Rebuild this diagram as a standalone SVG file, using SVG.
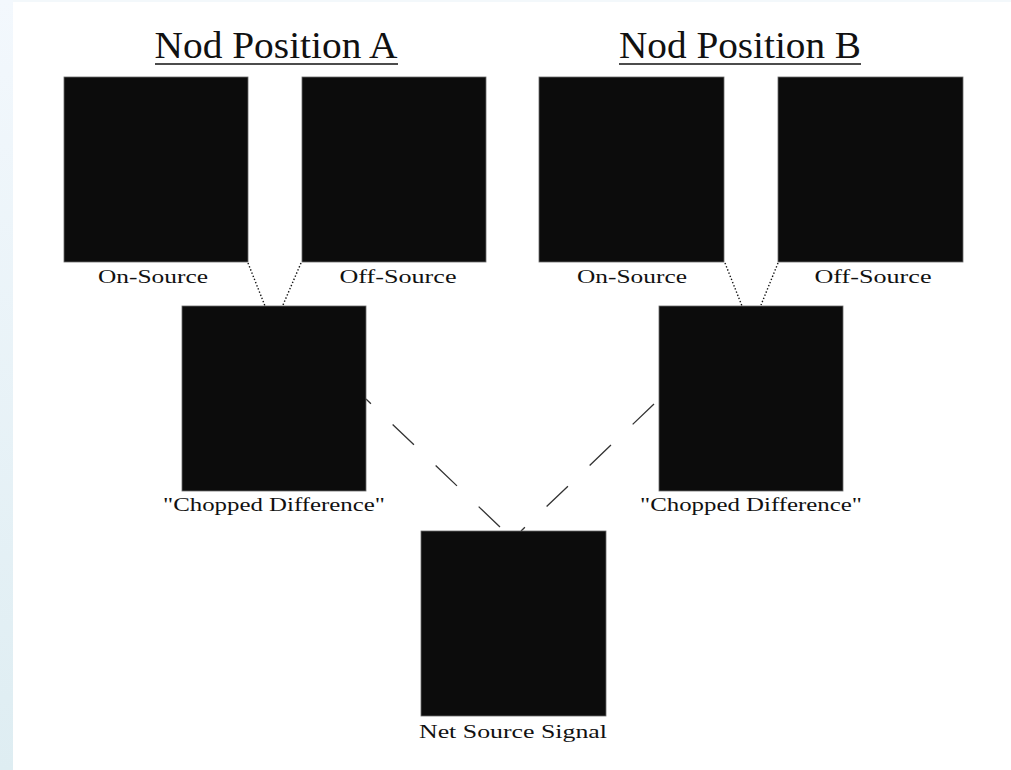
<svg xmlns="http://www.w3.org/2000/svg" width="1011" height="770" viewBox="0 0 1011 770">
  <defs>
    <linearGradient id="edge" x1="0" y1="0" x2="0" y2="1">
      <stop offset="0" stop-color="#f3f8fd"/>
      <stop offset="1" stop-color="#deedf2"/>
    </linearGradient>
    <style>
      .box { fill: #0c0c0c; stroke: #6a6a6a; stroke-width: 0.8; }
      .title { font-family: "Liberation Serif", "Times New Roman", serif; font-size: 37px; fill: #111; text-anchor: middle; }
      .label { font-family: "Liberation Serif", "Times New Roman", serif; font-size: 19px; fill: #111; text-anchor: middle; }
      .rule { stroke: #111; stroke-width: 1.6; }
      .dotted { stroke: #111; stroke-width: 1.4; stroke-dasharray: 1.4 2; fill: none; }
      .dashed { stroke: #333; stroke-width: 1.3; stroke-dasharray: 29.5 30; fill: none; }
    </style>
  </defs>

  <!-- page background -->
  <rect x="0" y="0" width="1011" height="770" fill="#ffffff"/>
  <rect x="0" y="0" width="13" height="770" fill="url(#edge)"/>
  <rect x="13" y="0" width="998" height="2" fill="#f3f8fb"/>

  <!-- headings -->
  <g id="heading-a">
    <text class="title" x="276" y="58" textLength="243" lengthAdjust="spacingAndGlyphs">Nod Position A</text>
    <line class="rule" x1="155" y1="64" x2="398" y2="64"/>
  </g>
  <g id="heading-b">
    <text class="title" x="740" y="58" textLength="242" lengthAdjust="spacingAndGlyphs">Nod Position B</text>
    <line class="rule" x1="619" y1="64" x2="861" y2="64"/>
  </g>

  <!-- connectors -->
  <g id="connectors">
    <line class="dotted" x1="248" y1="263" x2="265" y2="306"/>
    <line class="dotted" x1="301" y1="263" x2="283" y2="305"/>
    <line class="dotted" x1="725" y1="263" x2="742" y2="306"/>
    <line class="dotted" x1="778" y1="263" x2="761" y2="305"/>
    <line class="dashed" x1="500" y1="527" x2="366" y2="399"/>
    <line class="dashed" x1="654" y1="404" x2="521" y2="531"/>
  </g>

  <!-- nodes -->
  <g id="a-on-source">
    <rect class="box" x="64" y="77" width="184" height="185"/>
    <text class="label" x="153" y="283" textLength="110" lengthAdjust="spacingAndGlyphs">On-Source</text>
  </g>
  <g id="a-off-source">
    <rect class="box" x="302" y="77" width="184" height="185"/>
    <text class="label" x="398" y="283" textLength="117" lengthAdjust="spacingAndGlyphs">Off-Source</text>
  </g>
  <g id="b-on-source">
    <rect class="box" x="539" y="77" width="185" height="185"/>
    <text class="label" x="632" y="283" textLength="110" lengthAdjust="spacingAndGlyphs">On-Source</text>
  </g>
  <g id="b-off-source">
    <rect class="box" x="778" y="77" width="185" height="185"/>
    <text class="label" x="873" y="283" textLength="117" lengthAdjust="spacingAndGlyphs">Off-Source</text>
  </g>
  <g id="a-chopped-difference">
    <rect class="box" x="182" y="306" width="184" height="185"/>
    <text class="label" x="274" y="511" textLength="222" lengthAdjust="spacingAndGlyphs">"Chopped Difference"</text>
  </g>
  <g id="b-chopped-difference">
    <rect class="box" x="659" y="306" width="184" height="185"/>
    <text class="label" x="751" y="511" textLength="222" lengthAdjust="spacingAndGlyphs">"Chopped Difference"</text>
  </g>
  <g id="net-source-signal">
    <rect class="box" x="421" y="531" width="185" height="185"/>
    <text class="label" x="513" y="738" textLength="188" lengthAdjust="spacingAndGlyphs">Net Source Signal</text>
  </g>
</svg>
